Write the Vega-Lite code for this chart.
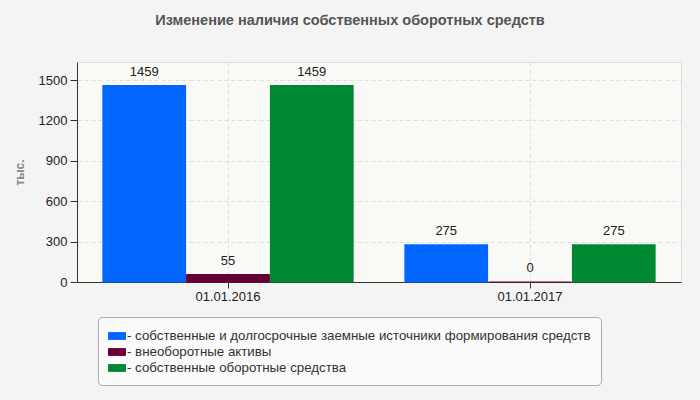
{
  "$schema": "https://vega.github.io/schema/vega-lite/v6.json",
  "width": 604,
  "height": 220,
  "autosize": {"type": "none"},
  "padding": {"left": 77, "top": 62, "right": 19, "bottom": 118},
  "background": "#f4f4f4",
  "title": {
    "text": "Изменение наличия собственных оборотных средств",
    "anchor": "middle",
    "frame": "group",
    "dx": -29,
    "offset": 34,
    "fontSize": 14.5,
    "fontWeight": "bold",
    "color": "#555555"
  },
  "data": {
    "values": [
      {"date": "01.01.2016", "series": "собственные и долгосрочные заемные источники формирования средств", "value": 1459},
      {"date": "01.01.2016", "series": "внеоборотные активы", "value": 55},
      {"date": "01.01.2016", "series": "собственные оборотные средства", "value": 1459},
      {"date": "01.01.2017", "series": "собственные и долгосрочные заемные источники формирования средств", "value": 275},
      {"date": "01.01.2017", "series": "внеоборотные активы", "value": 0},
      {"date": "01.01.2017", "series": "собственные оборотные средства", "value": 275}
    ]
  },
  "encoding": {
    "x": {
      "field": "date",
      "type": "nominal",
      "title": null,
      "scale": {"paddingInner": 0.172, "paddingOuter": 0.086},
      "axis": {
        "labelAngle": 0,
        "grid": true,
        "bandPosition": 0.5,
        "tickSize": 6,
        "labelPadding": 2
      }
    },
    "xOffset": {
      "field": "series",
      "type": "nominal",
      "sort": null,
      "scale": {"paddingInner": 0.015}
    },
    "y": {
      "field": "value",
      "type": "quantitative",
      "title": "тыс.",
      "scale": {"domain": [0, 1634], "nice": false},
      "axis": {
        "values": [0, 300, 600, 900, 1200, 1500],
        "format": "d",
        "tickSize": 7,
        "labelPadding": 3,
        "titlePadding": 12
      }
    }
  },
  "layer": [
    {
      "mark": {"type": "bar", "strokeWidth": 1.2},
      "encoding": {
        "color": {
          "field": "series",
          "type": "nominal",
          "sort": null,
          "scale": {
            "domain": [
              "собственные и долгосрочные заемные источники формирования средств",
              "внеоборотные активы",
              "собственные оборотные средства"
            ],
            "range": ["#0066ff", "#660033", "#008833"]
          },
          "legend": {
            "title": null,
            "orient": "none",
            "legendX": 21,
            "legendY": 255,
            "direction": "vertical",
            "labelExpr": "'- ' + datum.label",
            "symbolType": "M-1,-0.4H1V0.4H-1Z",
            "symbolSize": 289,
            "symbolStrokeColor": "#999999",
            "symbolStrokeWidth": 1,
            "symbolOpacity": 1,
            "labelFontSize": 13.3,
            "labelColor": "#333333",
            "labelOffset": 1,
            "labelLimit": 600,
            "rowPadding": 0,
            "padding": 10,
            "fillColor": "#fafafa",
            "strokeColor": "#aaaaaa",
            "cornerRadius": 4
          }
        },
        "stroke": {
          "field": "series",
          "type": "nominal",
          "sort": null,
          "scale": {
            "domain": [
              "собственные и долгосрочные заемные источники формирования средств",
              "внеоборотные активы",
              "собственные оборотные средства"
            ],
            "range": ["#0066ff", "#660033", "#008833"]
          },
          "legend": null
        }
      }
    },
    {
      "mark": {"type": "text", "baseline": "bottom", "dy": -7, "fontSize": 13, "color": "#222222"},
      "encoding": {
        "text": {"field": "value", "type": "quantitative"}
      }
    }
  ],
  "config": {
    "font": "Liberation Sans",
    "view": {"fill": "#f9f9f5", "stroke": "#dddddd"},
    "axis": {
      "labelFontSize": 13,
      "labelColor": "#222222",
      "domainColor": "#333333",
      "tickColor": "#333333",
      "gridColor": "#dddddd",
      "gridDash": [4, 3],
      "titleFontSize": 12,
      "titleColor": "#888888",
      "titleFontWeight": "bold"
    }
  }
}
